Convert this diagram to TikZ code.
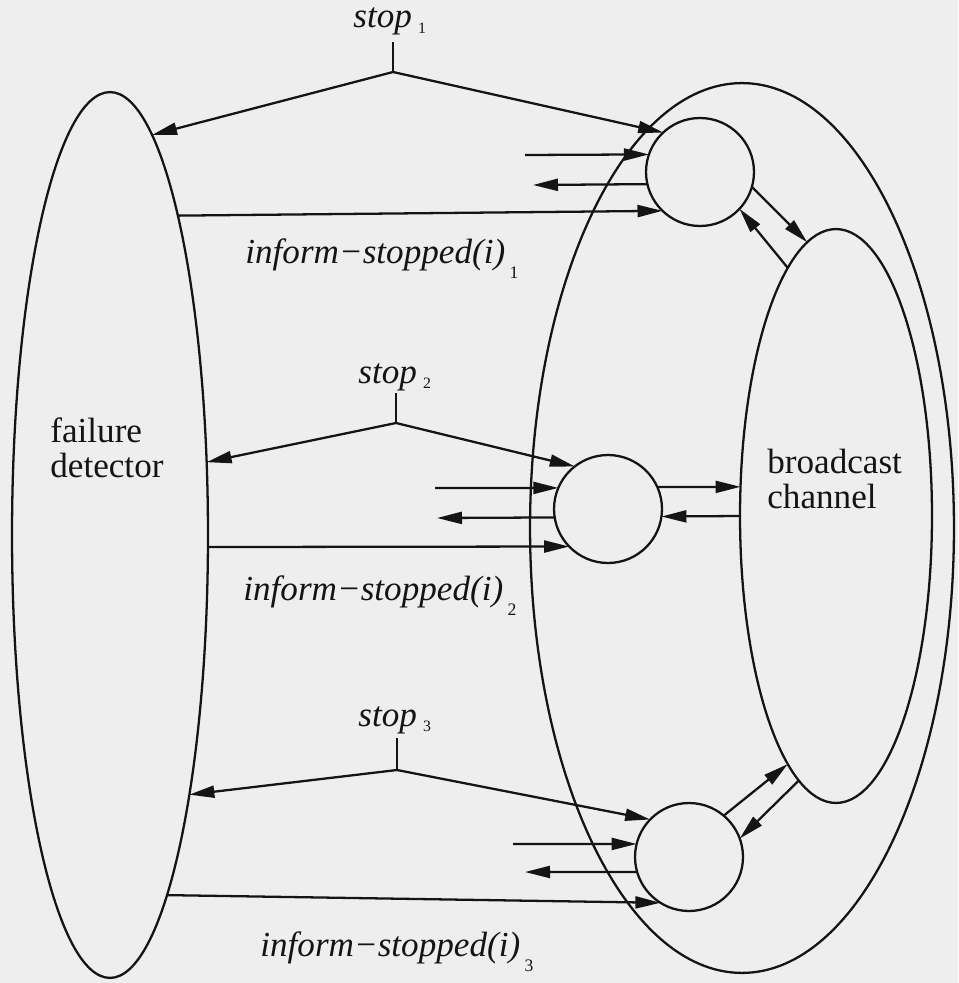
\documentclass[tikz,border=0pt]{standalone}
\usepackage{fontspec}
\setmainfont{Liberation Serif}
\newfontfamily\tnr{Liberation Serif}
\usetikzlibrary{arrows.meta,shapes.geometric}
\definecolor{bgc}{RGB}{238,238,238}
\definecolor{ink}{RGB}{20,20,20}
\newcommand\ssub[1]{\hspace{3.5pt}\raisebox{-3pt}{\fontsize{9}{9}\selectfont #1}}
\newcommand\isub[1]{\hspace{2.5pt}\raisebox{-9pt}{\fontsize{10}{10}\selectfont #1}}
\begin{document}
\begin{tikzpicture}[x=0.02cm,y=-0.02cm,
  ell/.style={ellipse, draw=ink, line width=1.3pt, inner sep=0pt, outer sep=0pt},
  circ/.style={circle, draw=ink, line width=1.3pt, inner sep=0pt, outer sep=0pt, minimum size=2.16cm},
  ln/.style={draw=ink, line width=1.3pt, line join=miter},
  arr/.style={draw=ink, line width=1.3pt, -{Triangle[length=0.5cm,width=0.24cm]}},
  lbl/.style={inner sep=0pt, anchor=base west, text=ink, font=\tnr\fontsize{20}{20}\selectfont}]
\fill[bgc] (0,0) rectangle (958,983);
\useasboundingbox (0,0) rectangle (958,983);

% shapes
\node[ell, minimum width=3.92cm, minimum height=17.72cm] (fd) at (110,535) {};
\node[ell, minimum width=8.48cm, minimum height=17.8cm] (outer) at (742,528) {};
\node[ell, minimum width=3.84cm, minimum height=11.48cm] (bc) at (836,516) {};
\node[circ] (c1) at (700,172) {};
\node[circ] (c2) at (608,509) {};
\node[circ] (c3) at (689,857) {};

% texts
\node[lbl] (fdt1) at (50,442) {failure};
\node[lbl] (fdt2) at (50,477) {detector};
\node[lbl] (bct1) at (767,473) {broadcast};
\node[lbl] (bct2) at (767,508) {channel};
\node[lbl] (s1) at (353,28) {\textit{stop}\ssub{1}};
\node[lbl] (s2) at (358,383) {\textit{stop}\ssub{2}};
\node[lbl] (s3) at (358,726) {\textit{stop}\ssub{3}};
\node[lbl] (i1) at (245,263) {\textit{inform−stopped(i)}\isub{1}};
\node[lbl] (i2) at (243,600) {\textit{inform−stopped(i)}\isub{2}};
\node[lbl] (i3) at (260,956) {\textit{inform−stopped(i)}\isub{3}};

% free ends
\coordinate (t1) at (393,42);  \coordinate (j1) at (393,72);
\coordinate (t2) at (396,393); \coordinate (j2) at (396,423);
\coordinate (t3) at (397,738); \coordinate (j3) at (397,770);
\coordinate (in1) at (525,155); \coordinate (out1) at (533,185);
\coordinate (in2) at (435,488); \coordinate (out2) at (437,518);
\coordinate (in3) at (513,844); \coordinate (out3) at (525,872);

% process 1
\draw[ln] (t1) -- (j1);
\draw[arr] (j1) -- (fd.84.1);
\draw[arr] (j1) -- (c1.133.7);
\draw[arr] (in1) -- (c1.161.65);
\draw[arr] (c1.193.93) -- (out1);
\draw[arr] (fd.78.35) -- (c1.226.2);
\draw[arr] (c1.-16.1) -- (bc.96.3);
\draw[arr] (bc.101.3) -- (c1.-43.6);

% process 2
\draw[ln] (t2) -- (j2);
\draw[arr] (j2) -- (fd.37.05);
\draw[arr] (j2) -- (c2.128.5);
\draw[arr] (in2) -- (c2.157.1);
\draw[arr] (c2.189.6) -- (out2);
\draw[arr] (fd.-7.0) -- (c2.224.7);
\draw[arr] (c2.24.0) -- (bc.163.1);
\draw[arr] (bc.180.6) -- (c2.-8.5);

% process 3
\draw[ln] (t3) -- (j3);
\draw[arr] (j3) -- (fd.-73.95);
\draw[arr] (j3) -- (c3.136.4);
\draw[arr] (in3) -- (c3.166.1);
\draw[arr] (c3.196.1) -- (out3);
\draw[arr] (fd.-81.55) -- (c3.238.4);
\draw[arr] (c3.50.7) -- (bc.259.3);
\draw[arr] (bc.262.6) -- (c3.20.7);
\end{tikzpicture}
\end{document}
